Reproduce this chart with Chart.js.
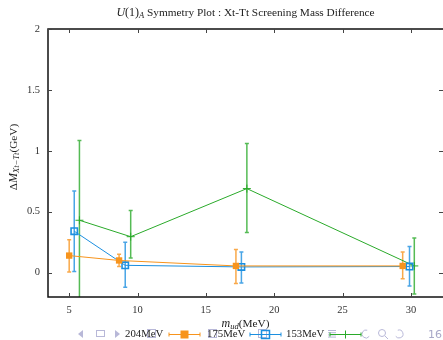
<!DOCTYPE html>
<html><head><meta charset="utf-8">
<script src="https://cdn.jsdelivr.net/npm/chart.js@4.4.0/dist/chart.umd.min.js"></script>
<style>html,body{margin:0;padding:0;background:#fff;}#wrap{width:443px;height:340px;}</style>
</head><body><div id="wrap"><canvas id="c" width="443" height="340"></canvas></div>
<script>
const seriesNames = ["204MeV", "175MeV", "153MeV"];
const x204 = [5.0, 8.65, 17.2, 29.4];
const y204 = [0.14, 0.10, 0.055, 0.055];
const lo204 = [0.005, 0.05, -0.09, -0.05];
const hi204 = [0.27, 0.15, 0.19, 0.17];
const x175 = [5.37, 9.1, 17.6, 29.9];
const y175 = [0.34, 0.06, 0.047, 0.05];
const lo175 = [0.01, -0.12, -0.085, -0.11];
const hi175 = [0.67, 0.25, 0.17, 0.215];
const x153 = [5.75, 9.5, 18.0, 30.25];
const y153 = [0.43, 0.295, 0.69, 0.055];
const lo153 = [-0.25, 0.12, 0.33, -0.175];
const hi153 = [1.085, 0.51, 1.06, 0.285];
const xTicks = [5, 10, 15, 20, 25, 30];
const yTicks = [0, 0.5, 1, 1.5, 2];
const colors = ["#F7941D", "#1B8FE0", "#2AAA2A"];

const serif = '"Liberation Serif", "DejaVu Serif", serif';
function pts(xs, ys){ return xs.map((x,i)=>({x:x, y:ys[i]})); }
const errs = [[lo204,hi204],[lo175,hi175],[lo153,hi153]];
const xsAll = [x204,x175,x153];

const framePlugin = {
  id:'frame',
  beforeDatasetsDraw(chart){
    const {ctx, chartArea:a, scales:{x,y}} = chart;
    ctx.save();
    ctx.beginPath(); ctx.rect(a.left, a.top, a.right-a.left, a.bottom-a.top); ctx.clip();
    for(let s=0;s<3;s++){
      ctx.strokeStyle = colors[s]; ctx.globalAlpha = 0.8; ctx.lineWidth = 1.5;
      const [lo,hi] = errs[s];
      xsAll[s].forEach((xv,i)=>{
        const px = x.getPixelForValue(xv);
        const p1 = y.getPixelForValue(lo[i]), p2 = y.getPixelForValue(hi[i]);
        ctx.beginPath(); ctx.moveTo(px,p1); ctx.lineTo(px,p2);
        ctx.moveTo(px-2,p1); ctx.lineTo(px+2,p1);
        ctx.moveTo(px-2,p2); ctx.lineTo(px+2,p2); ctx.stroke();
      });
    }
    ctx.restore();
  },
  afterDraw(chart){
    const {ctx, chartArea:a, scales:{x,y}} = chart;
    ctx.save();
    // frame
    ctx.strokeStyle = '#111'; ctx.lineWidth = 1.5;
    ctx.strokeRect(a.left, a.top, a.right-a.left+2, a.bottom-a.top);
    ctx.strokeStyle = '#444'; ctx.lineWidth = 1;
    xTicks.forEach(v=>{ const px=Math.round(x.getPixelForValue(v))+0.5;
      ctx.beginPath(); ctx.moveTo(px,a.bottom); ctx.lineTo(px,a.bottom-4);
      ctx.moveTo(px,a.top); ctx.lineTo(px,a.top+4); ctx.stroke(); });
    yTicks.forEach(v=>{ const py=Math.round(y.getPixelForValue(v))+0.5;
      ctx.beginPath(); ctx.moveTo(a.left,py); ctx.lineTo(a.left+4,py);
      ctx.moveTo(a.right,py); ctx.lineTo(a.right-4,py); ctx.stroke(); });
    // title
    ctx.fillStyle = '#222'; ctx.textBaseline = 'middle';
    const cx = (a.left+a.right)/2;
    const parts = [['U','italic 12px '+serif],['(1)','12px '+serif],['A','italic 8.5px '+serif,3],[' Symmetry Plot : Xt-Tt Screening Mass Difference','11.3px '+serif]];
    drawParts(ctx, parts, cx, 13);
    // x title
    drawParts(ctx, [['m','italic 12px '+serif],['ud','italic 8.5px '+serif,3],['(MeV)','11.3px '+serif]], cx, 324);
    // y title rotated
    ctx.save(); ctx.translate(14, 157); ctx.rotate(-Math.PI/2);
    drawParts(ctx, [['\u0394','11.3px '+serif],['M','italic 12px '+serif],['Xt\u2212Tt','italic 8.5px '+serif,3],['(GeV)','11.3px '+serif]], 0, 0);
    ctx.restore();
    // beamer nav icons
    ctx.strokeStyle = '#B8B8D8'; ctx.fillStyle = '#B8B8D8'; ctx.lineWidth = 1;
    tri(ctx, 81, 334, -1); ctx.strokeRect(96.5, 330.5, 8, 6); tri(ctx, 117, 334, 1);
    ctx.strokeRect(147.5, 329.5, 8, 8); ctx.strokeRect(208.5, 329.5, 8, 8); ctx.strokeRect(258.5, 329.5, 8, 8);
    ctx.beginPath(); for(let k=0;k<4;k++){ ctx.moveTo(328,330+k*2.2+0.5); ctx.lineTo(336,330+k*2.2+0.5);} ctx.stroke();
    ctx.beginPath(); ctx.arc(366,334,4,Math.PI*0.2,Math.PI*1.6); ctx.stroke();
    ctx.beginPath(); ctx.arc(382,333,3.5,0,Math.PI*2); ctx.moveTo(385,336); ctx.lineTo(388,339); ctx.stroke();
    ctx.beginPath(); ctx.arc(399,334,4,Math.PI*1.4,Math.PI*0.8); ctx.stroke();
    ctx.fillStyle = '#A8A8C8'; ctx.font = '11px "DejaVu Sans", sans-serif'; ctx.textAlign='left';
    ctx.fillText('16', 428, 335);
    // legend
    ctx.fillStyle = '#222'; ctx.font = '10.8px '+serif; ctx.textAlign='left'; ctx.textBaseline='middle';
    const lx = [125, 207, 286], sx = [169, 250, 330];
    for(let s=0;s<3;s++){
      ctx.fillStyle = '#222'; ctx.fillText(seriesNames[s], lx[s], 334.5);
      ctx.strokeStyle = colors[s]; ctx.lineWidth = 1;
      const x0 = sx[s], x1 = sx[s]+31, ym = 334.5, xm = (x0+x1)/2;
      ctx.beginPath(); ctx.moveTo(x0,ym); ctx.lineTo(x1,ym);
      ctx.moveTo(x0,ym-2); ctx.lineTo(x0,ym+2); ctx.moveTo(x1,ym-2); ctx.lineTo(x1,ym+2); ctx.stroke();
      if(s===0){ ctx.fillStyle = colors[0]; ctx.fillRect(xm-4, ym-4, 8, 8); }
      else if(s===1){ ctx.lineWidth=1.5; ctx.strokeRect(xm-4, ym-4, 8, 8); }
      else { ctx.beginPath(); ctx.moveTo(xm,ym-4); ctx.lineTo(xm,ym+4); ctx.stroke(); }
    }
    ctx.restore();
  }
};
function tri(ctx, x, y, d){ ctx.beginPath(); ctx.moveTo(x+d*3,y); ctx.lineTo(x-d*2,y-4); ctx.lineTo(x-d*2,y+4); ctx.closePath(); ctx.fill(); }
function drawParts(ctx, parts, cx, cy){
  let w = 0; parts.forEach(p=>{ ctx.font=p[1]; w += ctx.measureText(p[0]).width; });
  let xx = cx - w/2; ctx.textAlign='left';
  parts.forEach(p=>{ ctx.font=p[1]; ctx.fillText(p[0], xx, cy + (p[2]||0)); xx += ctx.measureText(p[0]).width; });
}

new Chart(document.getElementById('c'), {
  type:'scatter',
  data:{ datasets:[
    {label:seriesNames[0], data:pts(x204,y204), showLine:true, borderColor:colors[0], backgroundColor:colors[0], borderWidth:1, pointStyle:'rect', pointRadius:4.5, pointBorderWidth:0},
    {label:seriesNames[1], data:pts(x175,y175), showLine:true, borderColor:colors[1], backgroundColor:'rgba(0,0,0,0)', borderWidth:1, pointStyle:'rect', pointRadius:4.5, pointBorderWidth:1.6},
    {label:seriesNames[2], data:pts(x153,y153), showLine:true, borderColor:colors[2], backgroundColor:colors[2], borderWidth:1, pointStyle:'cross', pointRadius:4, pointBorderWidth:1}
  ]},
  options:{
    responsive:false, animation:false, devicePixelRatio:1,
    layout:{autoPadding:false, padding:{top:29, right:0, left:0, bottom:0}},
    plugins:{legend:{display:false}, title:{display:false}, tooltip:{enabled:false}},
    scales:{
      x:{type:'linear', min:3.45, max:32.35,
         afterBuildTicks(s){ s.ticks = xTicks.map(v=>({value:v})); },
         afterFit(s){ s.height = 43; s.paddingLeft = 0; s.paddingRight = 0; },
         grid:{display:false, drawTicks:false}, border:{display:false},
         ticks:{padding:7, color:'#333', font:{family:serif, size:10.5}, maxRotation:0, callback:v=>String(v)}},
      y:{type:'linear', min:-0.2, max:2,
         afterBuildTicks(s){ s.ticks = yTicks.map(v=>({value:v})); },
         afterFit(s){ s.width = 48; s.paddingTop = 0; s.paddingBottom = 0; },
         grid:{display:false, drawTicks:false}, border:{display:false},
         ticks:{padding:8, color:'#333', font:{family:serif, size:10.5}, callback:v=>String(v)}}
    }
  },
  plugins:[framePlugin]
});
</script></body></html>
